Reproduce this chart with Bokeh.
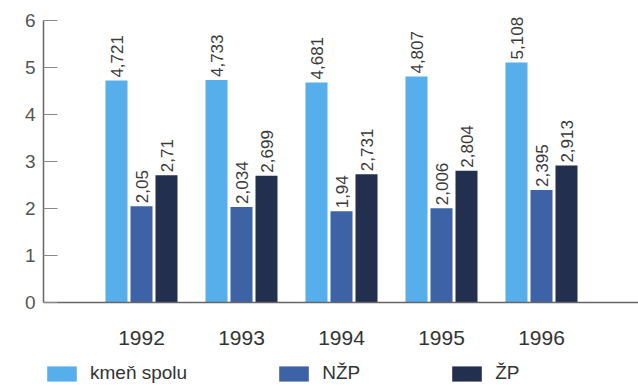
import numpy as np
from bokeh.plotting import figure
from bokeh.models import ColumnDataSource, Range1d, FixedTicker, Legend, LegendItem
from bokeh.core.properties import value
from bokeh.embed import file_html
from bokeh.resources import INLINE

years = ["1992", "1993", "1994", "1995", "1996"]
kmen_spolu = [4.721, 4.733, 4.681, 4.807, 5.108]
nzp = [2.05, 2.034, 1.94, 2.006, 2.395]
zp = [2.71, 2.699, 2.731, 2.804, 2.913]
series_names = ["kmeň spolu", "NŽP", "ŽP"]
series_values = [kmen_spolu, nzp, zp]
colors = ["#56aeea", "#3e62a6", "#222f4e"]
y_ticks = [0, 1, 2, 3, 4, 5, 6]

FONT = "Liberation Sans"
PX_PER_UNIT = 47.0

p = figure(frame_width=595, frame_height=386,
           x_range=Range1d(-0.48, 5.47),
           y_range=Range1d(-84 / PX_PER_UNIT, 302 / PX_PER_UNIT),
           output_backend="svg", toolbar_location=None,
           min_border_left=43, min_border_right=0,
           min_border_top=0, min_border_bottom=0)
p.outline_line_color = None
p.xgrid.visible = False
p.ygrid.visible = False
p.background_fill_color = "white"
p.border_fill_color = "white"

xpos = np.arange(len(years)) + 0.5
offsets = [-0.25, 0.0, 0.25]
items = []
for name, vals, col, off in zip(series_names, series_values, colors, offsets):
    src = ColumnDataSource(dict(
        x=xpos + off,
        top=vals,
        ly=[v + 3 / PX_PER_UNIT for v in vals],
        lab=[str(v).replace(".", ",") for v in vals],
    ))
    r = p.vbar(x="x", top="top", bottom=0, width=0.22, source=src,
               fill_color=col, line_color=None)
    p.text(x="x", y="ly", text="lab", source=src, angle=np.pi / 2,
           text_align="left", text_baseline="middle",
           text_font=value(FONT), text_font_size="17px", text_color="#3a3a3a")
    items.append(LegendItem(label=name, renderers=[r]))

# y axis
ya = p.yaxis[0]
ya.ticker = FixedTicker(ticks=y_ticks)
ya.bounds = (0, 6)
ya.major_tick_in = 14
ya.major_tick_out = 0
ya.minor_tick_line_color = None
ya.axis_line_color = "#666666"
ya.axis_line_width = 1.5
ya.major_tick_line_color = "#888888"
ya.major_label_text_font = FONT
ya.major_label_text_font_size = "19px"
ya.major_label_text_color = "#555555"
ya.major_label_standoff = 8

# x axis
xa = p.xaxis[0]
xa.fixed_location = 0
xa.ticker = FixedTicker(ticks=list(xpos))
xa.major_label_overrides = {float(x): y for x, y in zip(xpos, years)}
xa.major_tick_in = 0
xa.major_tick_out = 0
xa.minor_tick_line_color = None
xa.axis_line_color = "#666666"
xa.axis_line_width = 1.5
xa.major_label_text_font = FONT
xa.major_label_text_font_size = "21px"
xa.major_label_text_color = "#333333"
xa.major_label_standoff = 28

legend = Legend(items=items, orientation="horizontal", location=(0, 2),
                glyph_width=37, glyph_height=19, label_standoff=10, spacing=88,
                padding=0, margin=0, border_line_color=None,
                background_fill_alpha=0,
                label_text_font=FONT, label_text_font_size="19px",
                label_text_color="#333333")
p.add_layout(legend, "center")

open("out.html", "w").write(file_html(p, INLINE))
